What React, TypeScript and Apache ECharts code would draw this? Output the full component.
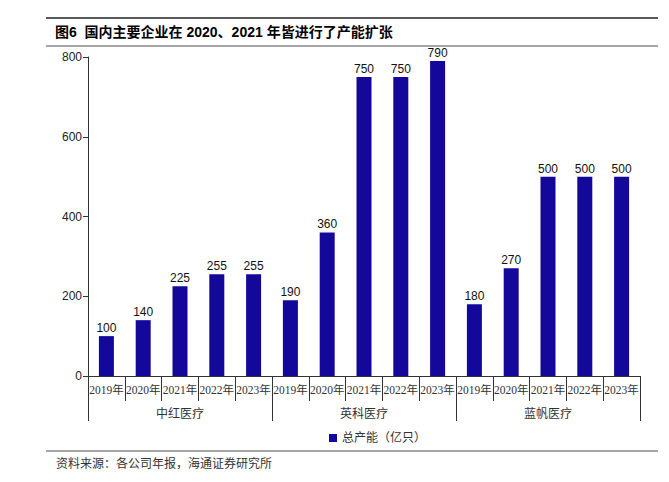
import React, { useEffect, useRef } from "react";
import * as echarts from "echarts";

const years = ["2019年", "2020年", "2021年", "2022年", "2023年"];
const companies = ["中红医疗", "英科医疗", "蓝帆医疗"];
const zhonghong = [100, 140, 225, 255, 255];
const yingke = [190, 360, 750, 750, 790];
const lanfan = [180, 270, 500, 500, 500];
const yTicks = { min: 0, max: 800, interval: 200 };
const seriesName = "总产能（亿只）";
const title = "图6  国内主要企业在 2020、2021 年皆进行了产能扩张";
const source = "资料来源：各公司年报，海通证券研究所";

const serif = "'Liberation Serif', 'DejaVu Serif', 'Noto Sans CJK SC', serif";
const sans = "'Liberation Sans', Arial, 'Noto Sans CJK SC', sans-serif";

export default function App() {
  const ref = useRef<HTMLDivElement>(null);
  useEffect(() => {
    if (!ref.current) return;
    const chart = echarts.init(ref.current, undefined, { renderer: "svg" });
    const cats: string[] = [];
    companies.forEach(() => years.forEach((y) => cats.push(y)));
    const values = [...zhonghong, ...yingke, ...lanfan];
    chart.setOption({
      animation: false,
      grid: { left: 88, right: 29, top: 57, bottom: 106, containLabel: false },
      legend: {
        data: [seriesName],
        bottom: 33,
        left: 324,
        itemWidth: 8,
        itemHeight: 8,
        itemGap: 4,
        icon: "rect",
        textStyle: { fontFamily: serif, fontSize: 12, color: "#333" },
      },
      xAxis: [
        {
          type: "category",
          data: cats,
          position: "bottom",
          axisLine: { show: true, lineStyle: { color: "#333", width: 1 } },
          axisTick: { show: true, interval: 0, length: 25, lineStyle: { color: "#333" } },
          axisLabel: {
            interval: 0,
            margin: 8,
            fontFamily: serif,
            fontSize: 11.5,
            color: "#333",
          },
        },
        {
          type: "category",
          data: companies,
          position: "bottom",
          offset: 22,
          axisLine: { show: false },
          axisTick: { show: true, interval: 0, length: 23, lineStyle: { color: "#333" } },
          axisLabel: {
            interval: 0,
            margin: 10,
            fontFamily: serif,
            fontSize: 12,
            color: "#333",
          },
        },
      ],
      yAxis: {
        type: "value",
        min: yTicks.min,
        max: yTicks.max,
        interval: yTicks.interval,
        splitLine: { show: false },
        axisLine: { show: true, lineStyle: { color: "#333" } },
        axisTick: { show: true, length: 5, lineStyle: { color: "#333" } },
        axisLabel: { fontFamily: sans, fontSize: 12, color: "#222", margin: 6 },
      },
      series: [
        {
          name: seriesName,
          type: "bar",
          xAxisIndex: 0,
          data: values,
          barWidth: 15,
          itemStyle: { color: "#13089a" },
          label: {
            show: true,
            position: "top",
            distance: 2,
            fontFamily: sans,
            fontSize: 12,
            color: "#111",
          },
        },
      ],
      graphic: [
        {
          type: "line",
          shape: { x1: 46, y1: 18, x2: 658, y2: 18 },
          style: { stroke: "#222", lineWidth: 1.5 },
        },
        {
          type: "text",
          x: 55,
          y: 32,
          style: {
            text: title,
            fontFamily: "'Liberation Sans', Arial, 'Noto Sans CJK SC', sans-serif",
            fontSize: 14,
            fontWeight: "bold",
            fill: "#000",
            textVerticalAlign: "middle",
          },
        },
        {
          type: "line",
          shape: { x1: 46, y1: 46, x2: 658, y2: 46 },
          style: { stroke: "#888", lineWidth: 1.5 },
        },
        {
          type: "line",
          shape: { x1: 46, y1: 451, x2: 658, y2: 451 },
          style: { stroke: "#888", lineWidth: 1.5 },
        },
        {
          type: "text",
          x: 56,
          y: 464,
          style: {
            text: source,
            fontFamily: serif,
            fontSize: 12,
            fill: "#333",
            textVerticalAlign: "middle",
          },
        },
      ],
    });
    return () => chart.dispose();
  }, []);
  return <div ref={ref} style={{ width: 669, height: 482, margin: -8 }} />;
}
